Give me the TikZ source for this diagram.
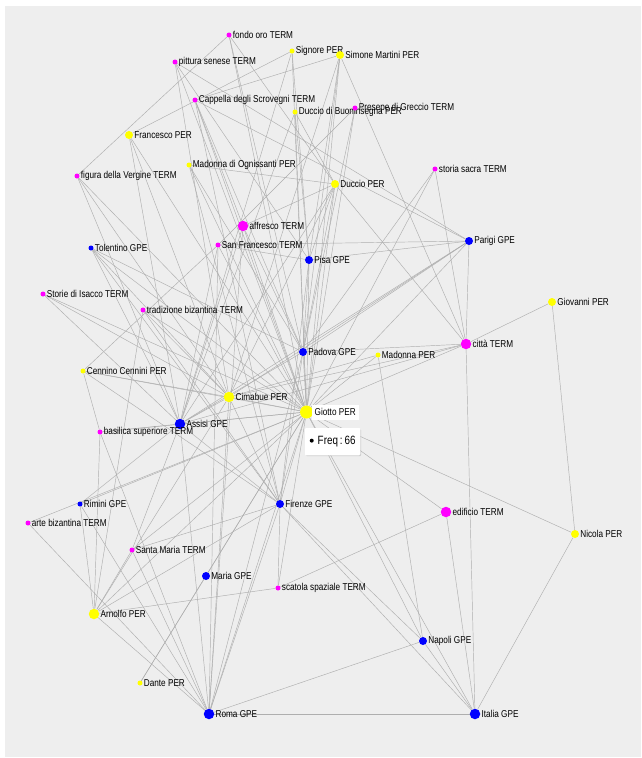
\documentclass[tikz,border=0pt]{standalone}
\usepackage{fontspec}
\setmainfont{Liberation Sans}[FakeStretch=0.82]
\usetikzlibrary{shadows}
\pgfdeclarelayer{bg}
\pgfdeclarelayer{edges}
\pgfsetlayers{bg,edges,main}
\definecolor{panel}{HTML}{EEEEEE}
\definecolor{edgec}{HTML}{AEAEAE}
\definecolor{perc}{HTML}{FFFF00}
\definecolor{termc}{HTML}{FF00FF}
\definecolor{gpec}{HTML}{0000FF}
\tikzset{
  nd/.style={circle,inner sep=0pt,draw=none},
  per/.style={nd,fill=perc},
  term/.style={nd,fill=termc},
  gpe/.style={nd,fill=gpec},
  sz1/.style={minimum size=5pt},
  sz2/.style={minimum size=8pt},
  sz3/.style={minimum size=10.5pt},
  lbl/.style={font=\fontsize{10}{11}\selectfont,text=black,inner sep=0.5pt},
  every label/.style={lbl},
  label distance=0.5pt,
  ed/.style={draw=edgec,line width=0.45pt},
}
\begin{document}
\begin{tikzpicture}[x=1pt,y=-1pt]
\useasboundingbox (0,0) rectangle (641,758);
\begin{pgfonlayer}{bg}
\fill[white] (0,0) rectangle (641,758);
\fill[panel] (5,6) rectangle (641,757);
\end{pgfonlayer}
% nodes
\node[term,sz1,label=right:{fondo oro TERM}] (fondo) at (229,35) {};
\node[term,sz1,label=right:{pittura senese TERM}] (pittura) at (175,62) {};
\node[per,sz1,label=right:{Signore PER}] (signore) at (292,51) {};
\node[per,sz2,label=right:{Simone Martini PER}] (simone) at (340,55) {};
\node[term,sz1,label=right:{Cappella degli Scrovegni TERM}] (cappella) at (195,100) {};
\node[per,sz1,label=right:{Duccio di Buoninsegna PER}] (duccioB) at (295,112) {};
\node[term,sz1,label=right:{Presepe di Greccio TERM}] (presepe) at (355,108) {};
\node[per,sz2,label=right:{Francesco PER}] (francesco) at (129,135) {};
\node[per,sz1,label=right:{Madonna di Ognissanti PER}] (madOgn) at (189,165) {};
\node[term,sz1,label=right:{figura della Vergine TERM}] (figura) at (77,176) {};
\node[term,sz1,label=right:{storia sacra TERM}] (storia) at (435,169) {};
\node[per,sz2,label=right:{Duccio PER}] (duccio) at (335,184) {};
\node[term,sz3,label=right:{affresco TERM}] (affresco) at (243,226) {};
\node[term,sz1,label=right:{San Francesco TERM}] (sanfr) at (218,245) {};
\node[gpe,sz1,label=right:{Tolentino GPE}] (tolentino) at (91,248) {};
\node[gpe,sz2,label=right:{Parigi GPE}] (parigi) at (469,241) {};
\node[gpe,sz2,label=right:{Pisa GPE}] (pisa) at (309,260) {};
\node[term,sz1,label=right:{Storie di Isacco TERM}] (isacco) at (43,294) {};
\node[term,sz1,label=right:{tradizione bizantina TERM}] (tradiz) at (143,310) {};
\node[per,sz2,label=right:{Giovanni PER}] (giovanni) at (552,302) {};
\node[term,sz3,label=right:{città TERM}] (citta) at (466,344) {};
\node[gpe,sz2,label=right:{Padova GPE}] (padova) at (303,352) {};
\node[per,sz1,label=right:{Madonna PER}] (madonna) at (378,355) {};
\node[per,sz1,label=right:{Cennino Cennini PER}] (cennino) at (83,371) {};
\node[per,sz3,label=right:{Cimabue PER}] (cimabue) at (229,397) {};
\node[gpe,sz3,label=right:{Assisi GPE}] (assisi) at (180,424) {};
\node[term,sz1,label=right:{basilica superiore TERM}] (basilica) at (100,432) {};
\node[gpe,sz1,label=right:{Rimini GPE}] (rimini) at (80,504) {};
\node[term,sz1,label=right:{arte bizantina TERM}] (artebiz) at (28,523) {};
\node[gpe,sz2,label=right:{Firenze GPE}] (firenze) at (280,504) {};
\node[term,sz3,label=right:{edificio TERM}] (edificio) at (446,512) {};
\node[per,sz2,label=right:{Nicola PER}] (nicola) at (575,534) {};
\node[term,sz1,label=right:{Santa Maria TERM}] (santamaria) at (132,550) {};
\node[gpe,sz2,label=right:{Maria GPE}] (maria) at (206,576) {};
\node[term,sz1,label=right:{scatola spaziale TERM}] (scatola) at (278,588) {};
\node[per,sz3,label=right:{Arnolfo PER}] (arnolfo) at (94,614) {};
\node[gpe,sz2,label=right:{Napoli GPE}] (napoli) at (423,641) {};
\node[per,sz1,label=right:{Dante PER}] (dante) at (140,683) {};
\node[gpe,sz3,label=right:{Roma GPE}] (roma) at (209,714) {};
\node[gpe,sz3,label=right:{Italia GPE}] (italia) at (475,714) {};
\node[per,minimum size=13pt] (giotto) at (306.5,412) {};
\node[lbl,fill=white,draw=white,drop shadow={shadow xshift=0.6pt,shadow yshift=-0.6pt,opacity=0.35},anchor=west,minimum height=14pt,inner xsep=2.5pt] (giottolbl) at (312,412) {Giotto PER};
\node[fill=white,draw=white,rounded corners=1pt,drop shadow={shadow xshift=0.8pt,shadow yshift=-0.8pt,opacity=0.35},anchor=north west,minimum width=55pt,minimum height=27pt,font=\fontsize{12}{13}\selectfont] (freq) at (305,428) {\raisebox{2pt}{\tikz\fill (0,0) circle (2pt);}\hspace{4pt}Freq\,:\,66};
% edges
\begin{pgfonlayer}{edges}
\foreach \n in {fondo,pittura,signore,simone,cappella,duccioB,presepe,madOgn,storia,duccio,affresco,sanfr,tolentino,parigi,pisa,isacco,tradiz,citta,padova,madonna,cennino,cimabue,assisi,basilica,rimini,artebiz,firenze,edificio,nicola,santamaria,maria,scatola,arnolfo,napoli,dante,roma,italia,francesco,figura}
  \draw[ed] (giotto) -- (\n);
\foreach \a/\b in {fondo/figura,fondo/duccio,fondo/padova,
  pittura/parigi,pittura/pisa,pittura/cimabue,
  signore/francesco,signore/pisa,signore/assisi,
  simone/cappella,simone/citta,simone/pisa,simone/padova,simone/cimabue,
  cappella/padova,cappella/affresco,cappella/firenze,cappella/parigi,
  duccioB/duccio,duccioB/pisa,duccioB/assisi,
  presepe/padova,presepe/sanfr,
  francesco/assisi,francesco/cimabue,
  madOgn/duccio,madOgn/firenze,madOgn/padova,
  figura/assisi,figura/cimabue,
  storia/citta,storia/padova,
  duccio/affresco,duccio/pisa,duccio/cimabue,duccio/citta,duccio/padova,duccio/assisi,
  affresco/padova,affresco/roma,affresco/assisi,
  sanfr/parigi,sanfr/assisi,sanfr/pisa,sanfr/roma,sanfr/cennino,
  tolentino/assisi,tolentino/cimabue,tolentino/padova,tolentino/firenze,
  parigi/pisa,parigi/citta,parigi/cimabue,parigi/padova,parigi/assisi,
  pisa/padova,pisa/firenze,
  isacco/assisi,isacco/cimabue,
  tradiz/arnolfo,tradiz/cimabue,tradiz/firenze,
  citta/giovanni,citta/cimabue,citta/italia,citta/assisi,citta/padova,
  giovanni/nicola,
  padova/assisi,padova/roma,padova/firenze,
  madonna/cimabue,madonna/napoli,
  cennino/basilica,cennino/cimabue,cennino/firenze,
  cimabue/assisi,cimabue/firenze,cimabue/roma,cimabue/arnolfo,
  assisi/roma,assisi/basilica,assisi/firenze,assisi/rimini,assisi/santamaria,
  basilica/arnolfo,basilica/roma,
  rimini/roma,rimini/arnolfo,
  artebiz/roma,
  firenze/arnolfo,firenze/santamaria,firenze/napoli,firenze/roma,firenze/italia,
  edificio/italia,edificio/scatola,
  nicola/italia,
  santamaria/arnolfo,santamaria/roma,
  maria/dante,scatola/arnolfo,scatola/firenze,
  napoli/roma,napoli/italia,roma/italia,roma/arnolfo}
  \draw[ed] (\a) -- (\b);
\end{pgfonlayer}
\end{tikzpicture}
\end{document}
